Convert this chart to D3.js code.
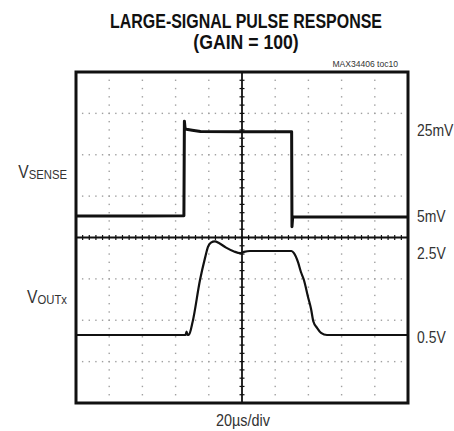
<!DOCTYPE html>
<html>
<head>
<meta charset="utf-8">
<script src="https://cdn.jsdelivr.net/npm/d3@7"></script>
<style>
  html, body { margin: 0; padding: 0; background: #fff; }
  svg { display: block; }
  .cond { font-family: "Liberation Sans", Arial, "Noto Sans", sans-serif; }
</style>
</head>
<body>
<svg id="chart" width="454" height="431"></svg>
<script>
// ---- data (time in µs, 20 µs/div, 10 divisions) ----
const senseTime = [0, 40, 65.0, 65.3, 65.7, 66.5, 70, 75, 100, 129.9, 130.1, 130.5, 131.2, 160, 200];
const senseMv   = [5.1, 5.1, 5.2, 27.3, 25.6, 25.4, 25.2, 24.9, 24.8, 24.8, 2.6, 4.7, 4.9, 4.9, 4.9];

const voutTime = [0, 44.6, 66.0, 66.6, 67.2, 68.1, 70.3, 74.7, 77.7, 79.5, 81.3, 83.7, 86.1, 90.4, 95.2, 98.8, 101.2, 104.8, 129.8, 131.3, 133.7, 135.5, 137.3, 139.8, 141.6, 143.0, 145.2, 147.6, 151.2, 200];
const voutV    = [0.5, 0.5, 0.5, 0.58, 0.5, 0.51, 0.82, 1.81, 2.33, 2.60, 2.70, 2.73, 2.69, 2.58, 2.49, 2.45, 2.48, 2.50, 2.50, 2.45, 2.24, 2.00, 1.81, 1.40, 1.12, 0.82, 0.67, 0.55, 0.50, 0.50];

const senseLabels = ["25mV", "5mV"];
const senseLabelValues = [25, 5];
const voutLabels = ["2.5V", "0.5V"];
const voutLabelValues = [2.5, 0.5];

const titleLines = ["LARGE-SIGNAL PULSE RESPONSE", "(GAIN = 100)"];
const partNote = "MAX34406 toc10";
const xLabel = "20\u00b5s/div";

// ---- layout ----
const svg = d3.select("#chart");
const L = 76, R = 408, T = 72, B = 403;
const x = d3.scaleLinear().domain([0, 200]).range([L, R]);
const yDiv = d3.scaleLinear().domain([0, 8]).range([T, B]);
const ySense = d3.scaleLinear().domain([5, 25]).range([216.5, 131]);
const yOut = d3.scaleLinear().domain([0.5, 2.5]).range([335, 251]);

// condensed look: squeeze each text horizontally
function condense(sel, f) {
  sel.each(function (d, i) {
    const k = typeof f === "function" ? f(d, i) : f;
    const w = this.getComputedTextLength();
    d3.select(this).attr("textLength", w * k).attr("lengthAdjust", "spacingAndGlyphs");
  });
}

// grid dots
const g = svg.append("g");
const majorX = d3.range(20, 200, 20).filter(v => v !== 100);
const minorY = d3.range(0, 8.0001, 0.2);
majorX.forEach(v => {
  g.selectAll(null).data(minorY).enter().append("rect")
    .attr("x", x(v) - 0.7).attr("y", d => yDiv(d) - 0.7)
    .attr("width", 1.4).attr("height", 1.4).attr("fill", "#a0a0a0");
});
const majorY = [1, 2, 3, 5, 6, 7];
const minorX = d3.range(0, 200.0001, 4);
majorY.forEach(v => {
  g.selectAll(null).data(minorX).enter().append("rect")
    .attr("x", d => x(d) - 0.7).attr("y", yDiv(v) - 0.7)
    .attr("width", 1.4).attr("height", 1.4).attr("fill", "#a0a0a0");
});

// center axes with minor ticks
const axG = svg.append("g").attr("stroke", "#111");
axG.append("line").attr("x1", x(100)).attr("x2", x(100)).attr("y1", T).attr("y2", B).attr("stroke-width", 1.8);
axG.append("line").attr("x1", L).attr("x2", R).attr("y1", yDiv(4)).attr("y2", yDiv(4)).attr("stroke-width", 1.8);
axG.selectAll(null).data(minorY).enter().append("line")
  .attr("x1", x(100) - 2.5).attr("x2", x(100) + 2.5)
  .attr("y1", d => yDiv(d)).attr("y2", d => yDiv(d)).attr("stroke-width", 1.2);
axG.selectAll(null).data(minorX).enter().append("line")
  .attr("y1", yDiv(4) - 2.5).attr("y2", yDiv(4) + 2.5)
  .attr("x1", d => x(d)).attr("x2", d => x(d)).attr("stroke-width", 1.2);

// traces
const senseLine = d3.line().x((d, i) => x(senseTime[i])).y(d => ySense(d));
svg.append("path").datum(senseMv).attr("d", senseLine)
  .attr("fill", "none").attr("stroke", "#111").attr("stroke-width", 3).attr("stroke-linejoin", "round");

const voutLine = d3.line().x((d, i) => x(voutTime[i])).y(d => yOut(d)).curve(d3.curveMonotoneX);
svg.append("path").datum(voutV).attr("d", voutLine)
  .attr("fill", "none").attr("stroke", "#111").attr("stroke-width", 2.2).attr("stroke-linejoin", "round");

// frame
svg.append("rect").attr("x", L).attr("y", T).attr("width", R - L).attr("height", B - T)
  .attr("fill", "none").attr("stroke", "#111").attr("stroke-width", 3);

// titles
svg.selectAll(null).data(titleLines).enter().append("text")
  .attr("class", "cond")
  .attr("x", 246).attr("y", (d, i) => 28 + i * 21)
  .attr("text-anchor", "middle").attr("font-size", 21).attr("font-weight", "bold")
  .attr("fill", "#111").text(d => d)
  .call(condense, (d, i) => i === 0 ? 0.76 : 0.84);
svg.append("text").attr("class", "cond")
  .attr("x", 398).attr("y", 67).attr("text-anchor", "end").attr("font-size", 9.5)
  .attr("fill", "#333").text(partNote)
  .call(condense, 0.9);

// right labels
const rl = svg.append("g").attr("class", "cond").attr("fill", "#333").attr("font-size", 17);
rl.selectAll(null).data(senseLabels).enter().append("text")
  .attr("x", 417).attr("y", (d, i) => ySense(senseLabelValues[i]) + 5).text(d => d)
  .call(condense, 0.82);
rl.selectAll(null).data(voutLabels).enter().append("text")
  .attr("x", 417).attr("y", (d, i) => yOut(voutLabelValues[i]) + 8).text(d => d)
  .call(condense, 0.82);

// left channel labels
function chLabel(main, sub, yBase) {
  const t = svg.append("text").attr("class", "cond").attr("x", 67).attr("y", yBase)
    .attr("text-anchor", "end").attr("fill", "#333").attr("font-size", 18);
  t.append("tspan").text(main);
  t.append("tspan").attr("font-size", 13).attr("dy", 1.5).text(sub);
  t.attr("transform", `translate(${67 * (1 - 0.87)},0) scale(0.87,1)`);
}
chLabel("V", "SENSE", 178);
chLabel("V", "OUTx", 303);

// x label
svg.append("text").attr("class", "cond").attr("x", 243).attr("y", 426)
  .attr("text-anchor", "middle").attr("font-size", 16).attr("fill", "#333").text(xLabel)
  .call(condense, 0.9);
</script>
</body>
</html>
